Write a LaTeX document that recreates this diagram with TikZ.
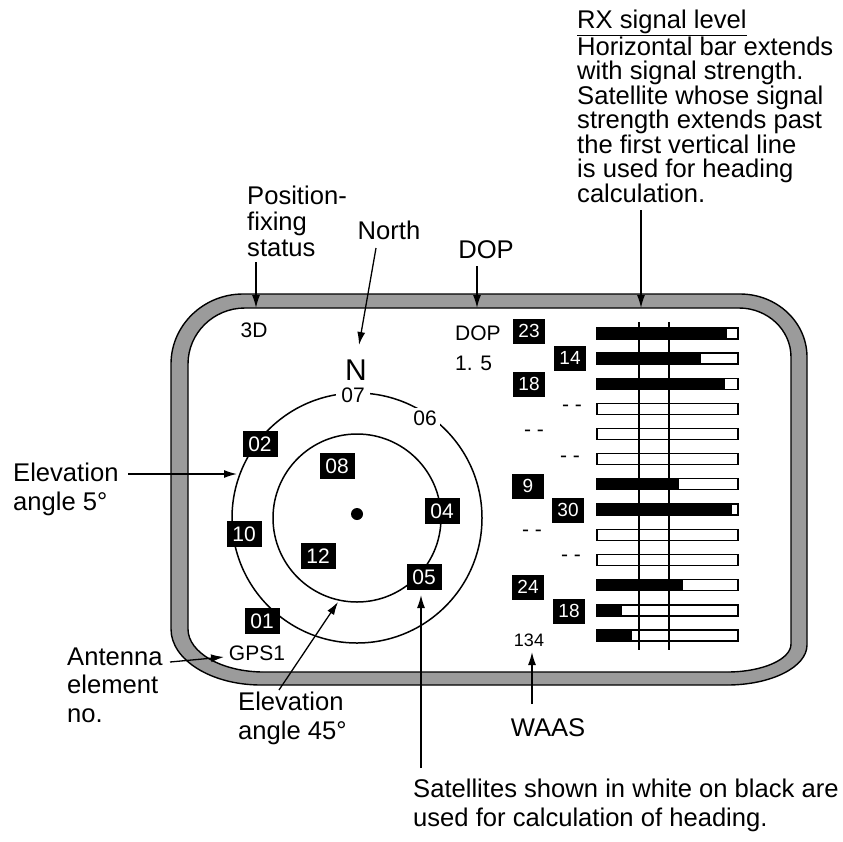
\documentclass[tikz,border=0pt]{standalone}
\usepackage{fontspec}
\setmainfont{Liberation Sans}
\usetikzlibrary{arrows.meta}
\definecolor{framegray}{RGB}{155,155,155}
\begin{document}
\begin{tikzpicture}[x=1pt,y=-1pt,
  lbl/.style={font=\fontsize{25.6}{28.5}\selectfont, inner sep=0pt, align=left},
  small/.style={font=\fontsize{21}{24}\selectfont, inner sep=0pt},
  sat/.style={fill=black, text=white, font=\fontsize{21}{21}\selectfont, minimum width=35pt, minimum height=26pt, inner sep=0pt},
  rsat/.style={fill=black, text=white, font=\fontsize{19}{19}\selectfont, minimum width=32pt, minimum height=25pt, inner sep=0pt},
  arr/.style={-{Latex[length=13pt,width=8pt]}, line width=1.3pt},
  ring/.style={line width=1.5pt},
  bar/.style={line width=1.4pt}
]
\useasboundingbox (0,0) rectangle (843,841);

% frame
\draw[line width=1.4pt, fill=framegray, even odd rule]
  (171,364) .. controls (171,325.4) and (203.3,294) .. (243,294) -- (740,294)
  .. controls (777,294) and (807,322.2) .. (807,357) -- (807,645)
  .. controls (807,667.1) and (771.2,685) .. (727,685) -- (261,685)
  .. controls (211.3,685) and (171,659.9) .. (171,629) -- cycle
  (188,364) .. controls (188,333.1) and (213.5,308) .. (245,308) -- (739,308)
  .. controls (767.7,308) and (791,330) .. (791,357) -- (791,644)
  .. controls (791,659.5) and (762.3,672) .. (727,672) -- (264,672)
  .. controls (222,672) and (188,652.7) .. (188,629) -- cycle;

% sky plot
\coordinate (c) at (357,518);
\draw[ring] (c) circle[radius=125pt];
\draw[ring] (c) circle[radius=84pt];
\fill (357,514) circle[radius=6pt];

\node[font=\fontsize{30}{30}\selectfont, inner sep=0pt] (N) at (356,370) {N};
\node[small, fill=white, inner xsep=5pt, inner ysep=2pt] (s07) at (353,395) {07};
\node[small, fill=white, inner sep=3pt] (s06) at (425,418) {06};
\node[sat] (s02) at (260,444) {02};
\node[sat] (s08) at (337,466) {08};
\node[sat] (s04) at (442,511) {04};
\node[sat] (s10) at (244,534) {10};
\node[sat] (s12) at (318,556) {12};
\node[sat] (s05) at (424,577) {05};
\node[sat] (s01) at (262,621) {01};
\node[small] (gps) at (257,653) {GPS1};
\node[small] (fix) at (254,330) {3D};

% DOP
\node[small, anchor=base west] (dop) at (455,340) {DOP};
\node[small, anchor=base west] (dopv) at (455,370) {1. 5};

% right satellites
\node[rsat] (r23) at (529,331) {23};
\node[rsat] (r14) at (570,358) {14};
\node[rsat] (r18) at (529,384) {18};
\node[small] (d1) at (572,408) {- -};
\node[small] (d2) at (534,433) {- -};
\node[small] (d3) at (570,459) {- -};
\node[rsat] (r9) at (528,486) {9};
\node[rsat] (r30) at (568,510) {30};
\node[small] (d4) at (532,533) {- -};
\node[small] (d5) at (571,558) {- -};
\node[rsat] (r24) at (528,587) {24};
\node[rsat] (r18b) at (569,611) {18};
\node[font=\fontsize{18}{18}\selectfont, inner sep=0pt] (waasn) at (529,640) {134};

% bars
\foreach \y/\b in {333.5/727, 358.6/701, 383.7/725, 408.8/597, 434/597, 459/597, 484/679, 509.5/732, 535/597, 560/597, 585/683, 610.5/622, 635.5/632} {
  \fill (597,\y-5.5) rectangle (\b,\y+5.5);
  \draw[bar] (597,\y-5.5) rectangle (738,\y+5.5);
}
\draw[ring] (639,322) -- (639,650);
\draw[ring] (669,322) -- (669,650);

% outside labels (base = baseline of the last line)
\node[lbl, anchor=base west, font=\fontsize{25.6}{24.5}\selectfont] (rx) at (577,202)
  {\underline{RX signal level}\\Horizontal bar extends\\with signal strength.\\Satellite whose signal\\strength extends past\\the first vertical line\\is used for heading\\calculation.};
\node[lbl, anchor=base west, font=\fontsize{25.6}{26}\selectfont] (pos) at (247,256) {Position-\\fixing\\status};
\node[lbl, anchor=base] (north) at (389,239) {North};
\node[lbl, anchor=base] (doplbl) at (486,258) {DOP};
\node[lbl, anchor=base west] (el5) at (13,510) {Elevation\\angle 5°};
\node[lbl, anchor=base west] (ant) at (67,722) {Antenna\\element\\no.};
\node[lbl, anchor=base west] (el45) at (238,739) {Elevation\\angle 45°};
\node[lbl, anchor=base] (waas) at (548,736) {WAAS};
\node[lbl, anchor=base west] (note) at (413,826) {Satellites shown in white on black are\\used for calculation of heading.};

% arrow ends
\coordinate (rxs) at (641,210);   \coordinate (rxt) at (641,308);
\coordinate (poss) at (256,262);  \coordinate (post) at (256,308);
\coordinate (ns) at (376,248);    \coordinate (nt) at (359,345);
\coordinate (ds) at (477,266);    \coordinate (dt) at (477,308);
\coordinate (e5s) at (128,474);   \coordinate (e5t) at (237,474);
\coordinate (as) at (170,662);    \coordinate (at2) at (224,657);
\coordinate (e45s) at (279,690);  \coordinate (e45t) at (338,602);
\coordinate (ws) at (532,704);    \coordinate (wt) at (532,652);
\coordinate (ss) at (421,768);    \coordinate (st) at (421,595);

\draw[arr] (rxs) -- (rxt);
\draw[arr] (poss) -- (post);
\draw[arr] (ns) -- (nt);
\draw[arr] (ds) -- (dt);
\draw[arr] (e5s) -- (e5t);
\draw[arr] (as) -- (at2);
\draw[arr] (e45s) -- (e45t);
\draw[arr] (ws) -- (wt);
\draw[arr] (ss) -- (st);
\end{tikzpicture}
\end{document}
